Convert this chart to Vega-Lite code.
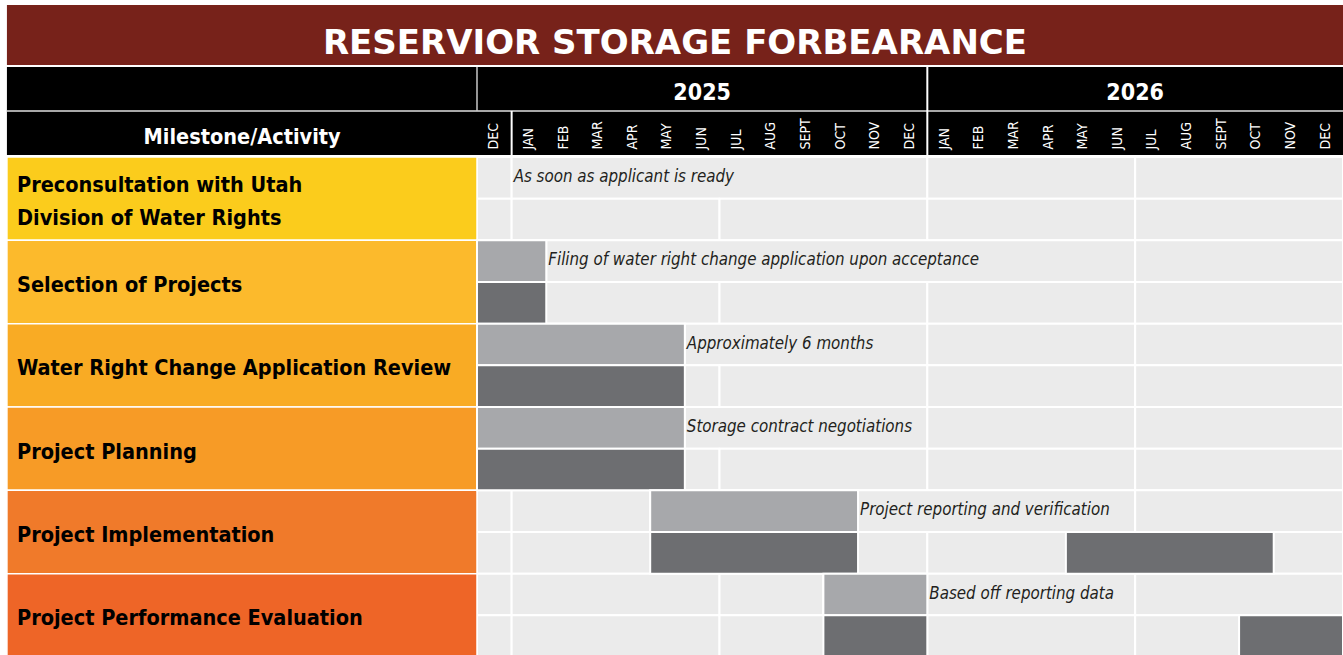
{
  "$schema": "https://vega.github.io/schema/vega-lite/v6.json",
  "padding": 0,
  "spacing": 0,
  "background": "#ffffff",
  "config": {"view": {"stroke": null}, "axis": {"disable": true}, "legend": {"disable": true}, "concat": {"spacing": 0}},
  "datasets": {
    "frame": [{"title": "RESERVIOR STORAGE FORBEARANCE", "header": "Milestone/Activity"}],
    "years": [{"year": "2025", "mid": 6.5}, {"year": "2026", "mid": 19}],
    "months": [
      {"idx": 0, "month": "DEC"}, {"idx": 1, "month": "JAN"}, {"idx": 2, "month": "FEB"}, {"idx": 3, "month": "MAR"},
      {"idx": 4, "month": "APR"}, {"idx": 5, "month": "MAY"}, {"idx": 6, "month": "JUN"}, {"idx": 7, "month": "JUL"},
      {"idx": 8, "month": "AUG"}, {"idx": 9, "month": "SEPT"}, {"idx": 10, "month": "OCT"}, {"idx": 11, "month": "NOV"},
      {"idx": 12, "month": "DEC"}, {"idx": 13, "month": "JAN"}, {"idx": 14, "month": "FEB"}, {"idx": 15, "month": "MAR"},
      {"idx": 16, "month": "APR"}, {"idx": 17, "month": "MAY"}, {"idx": 18, "month": "JUN"}, {"idx": 19, "month": "JUL"},
      {"idx": 20, "month": "AUG"}, {"idx": 21, "month": "SEPT"}, {"idx": 22, "month": "OCT"}, {"idx": 23, "month": "NOV"},
      {"idx": 24, "month": "DEC"}
    ],
    "activities": [
      {"activity": "Preconsultation with Utah Division of Water Rights", "label": ["Preconsultation with Utah", "Division of Water Rights"], "lines": 2},
      {"activity": "Selection of Projects", "label": "Selection of Projects", "lines": 1},
      {"activity": "Water Right Change Application Review", "label": "Water Right Change Application Review", "lines": 1},
      {"activity": "Project Planning", "label": "Project Planning", "lines": 1},
      {"activity": "Project Implementation", "label": "Project Implementation", "lines": 1},
      {"activity": "Project Performance Evaluation", "label": "Project Performance Evaluation", "lines": 1}
    ],
    "cells": [
      {"activity": "Preconsultation with Utah Division of Water Rights", "phase": "plan", "start": 0, "end": 1},
      {"activity": "Preconsultation with Utah Division of Water Rights", "phase": "plan", "start": 1, "end": 13},
      {"activity": "Preconsultation with Utah Division of Water Rights", "phase": "plan", "start": 13, "end": 19},
      {"activity": "Preconsultation with Utah Division of Water Rights", "phase": "plan", "start": 19, "end": 25},
      {"activity": "Preconsultation with Utah Division of Water Rights", "phase": "actual", "start": 0, "end": 1},
      {"activity": "Preconsultation with Utah Division of Water Rights", "phase": "actual", "start": 1, "end": 7},
      {"activity": "Preconsultation with Utah Division of Water Rights", "phase": "actual", "start": 7, "end": 13},
      {"activity": "Preconsultation with Utah Division of Water Rights", "phase": "actual", "start": 13, "end": 19},
      {"activity": "Preconsultation with Utah Division of Water Rights", "phase": "actual", "start": 19, "end": 25},
      {"activity": "Selection of Projects", "phase": "plan", "start": 0, "end": 2},
      {"activity": "Selection of Projects", "phase": "plan", "start": 2, "end": 19},
      {"activity": "Selection of Projects", "phase": "plan", "start": 19, "end": 25},
      {"activity": "Selection of Projects", "phase": "actual", "start": 0, "end": 1},
      {"activity": "Selection of Projects", "phase": "actual", "start": 1, "end": 7},
      {"activity": "Selection of Projects", "phase": "actual", "start": 7, "end": 13},
      {"activity": "Selection of Projects", "phase": "actual", "start": 13, "end": 19},
      {"activity": "Selection of Projects", "phase": "actual", "start": 19, "end": 25},
      {"activity": "Water Right Change Application Review", "phase": "plan", "start": 0, "end": 6},
      {"activity": "Water Right Change Application Review", "phase": "plan", "start": 6, "end": 13},
      {"activity": "Water Right Change Application Review", "phase": "plan", "start": 13, "end": 19},
      {"activity": "Water Right Change Application Review", "phase": "plan", "start": 19, "end": 25},
      {"activity": "Water Right Change Application Review", "phase": "actual", "start": 0, "end": 1},
      {"activity": "Water Right Change Application Review", "phase": "actual", "start": 1, "end": 7},
      {"activity": "Water Right Change Application Review", "phase": "actual", "start": 7, "end": 13},
      {"activity": "Water Right Change Application Review", "phase": "actual", "start": 13, "end": 19},
      {"activity": "Water Right Change Application Review", "phase": "actual", "start": 19, "end": 25},
      {"activity": "Project Planning", "phase": "plan", "start": 0, "end": 6},
      {"activity": "Project Planning", "phase": "plan", "start": 6, "end": 13},
      {"activity": "Project Planning", "phase": "plan", "start": 13, "end": 19},
      {"activity": "Project Planning", "phase": "plan", "start": 19, "end": 25},
      {"activity": "Project Planning", "phase": "actual", "start": 0, "end": 1},
      {"activity": "Project Planning", "phase": "actual", "start": 1, "end": 7},
      {"activity": "Project Planning", "phase": "actual", "start": 7, "end": 13},
      {"activity": "Project Planning", "phase": "actual", "start": 13, "end": 19},
      {"activity": "Project Planning", "phase": "actual", "start": 19, "end": 25},
      {"activity": "Project Implementation", "phase": "plan", "start": 0, "end": 1},
      {"activity": "Project Implementation", "phase": "plan", "start": 1, "end": 5},
      {"activity": "Project Implementation", "phase": "plan", "start": 5, "end": 11},
      {"activity": "Project Implementation", "phase": "plan", "start": 11, "end": 19},
      {"activity": "Project Implementation", "phase": "plan", "start": 19, "end": 25},
      {"activity": "Project Implementation", "phase": "actual", "start": 0, "end": 1},
      {"activity": "Project Implementation", "phase": "actual", "start": 1, "end": 7},
      {"activity": "Project Implementation", "phase": "actual", "start": 7, "end": 13},
      {"activity": "Project Implementation", "phase": "actual", "start": 13, "end": 19},
      {"activity": "Project Implementation", "phase": "actual", "start": 19, "end": 25},
      {"activity": "Project Performance Evaluation", "phase": "plan", "start": 0, "end": 1},
      {"activity": "Project Performance Evaluation", "phase": "plan", "start": 1, "end": 7},
      {"activity": "Project Performance Evaluation", "phase": "plan", "start": 7, "end": 10},
      {"activity": "Project Performance Evaluation", "phase": "plan", "start": 10, "end": 13},
      {"activity": "Project Performance Evaluation", "phase": "plan", "start": 13, "end": 19},
      {"activity": "Project Performance Evaluation", "phase": "plan", "start": 19, "end": 25},
      {"activity": "Project Performance Evaluation", "phase": "actual", "start": 0, "end": 1},
      {"activity": "Project Performance Evaluation", "phase": "actual", "start": 1, "end": 7},
      {"activity": "Project Performance Evaluation", "phase": "actual", "start": 7, "end": 13},
      {"activity": "Project Performance Evaluation", "phase": "actual", "start": 13, "end": 19},
      {"activity": "Project Performance Evaluation", "phase": "actual", "start": 19, "end": 25}
    ],
    "bars": [
      {"activity": "Selection of Projects", "phase": "plan", "start": 0, "end": 2},
      {"activity": "Selection of Projects", "phase": "actual", "start": 0, "end": 2},
      {"activity": "Water Right Change Application Review", "phase": "plan", "start": 0, "end": 6},
      {"activity": "Water Right Change Application Review", "phase": "actual", "start": 0, "end": 6},
      {"activity": "Project Planning", "phase": "plan", "start": 0, "end": 6},
      {"activity": "Project Planning", "phase": "actual", "start": 0, "end": 6},
      {"activity": "Project Implementation", "phase": "plan", "start": 5, "end": 11},
      {"activity": "Project Implementation", "phase": "actual", "start": 5, "end": 11},
      {"activity": "Project Implementation", "phase": "actual", "start": 17, "end": 23},
      {"activity": "Project Performance Evaluation", "phase": "plan", "start": 10, "end": 13},
      {"activity": "Project Performance Evaluation", "phase": "actual", "start": 10, "end": 13},
      {"activity": "Project Performance Evaluation", "phase": "actual", "start": 22, "end": 25}
    ],
    "notes": [
      {"activity": "Preconsultation with Utah Division of Water Rights", "phase": "plan", "at": 1, "note": "As soon as applicant is ready"},
      {"activity": "Selection of Projects", "phase": "plan", "at": 2, "note": "Filing of water right change application upon acceptance"},
      {"activity": "Water Right Change Application Review", "phase": "plan", "at": 6, "note": "Approximately 6 months"},
      {"activity": "Project Planning", "phase": "plan", "at": 6, "note": "Storage contract negotiations"},
      {"activity": "Project Implementation", "phase": "plan", "at": 11, "note": "Project reporting and verification"},
      {"activity": "Project Performance Evaluation", "phase": "plan", "at": 13, "note": "Based off reporting data"}
    ]
  },
  "vconcat": [
    {
      "width": 1343,
      "height": 155,
      "layer": [
        {
          "data": {"name": "frame"},
          "mark": {"type": "rect", "fill": "#77221a"},
          "encoding": {
            "x": {"datum": -13.57, "type": "quantitative", "scale": {"domain": [-13.77, 25], "nice": false, "zero": false}},
            "x2": {"datum": 25},
            "y": {"datum": 0.12, "type": "quantitative", "scale": {"domain": [0, 3.72], "reverse": true, "nice": false, "zero": false}},
            "y2": {"datum": 1.56}
          }
        },
        {
          "data": {"name": "frame"},
          "mark": {"type": "text", "font": "DejaVu Sans", "fontWeight": "bold", "fontSize": 34, "fill": "#ffffff", "align": "center", "baseline": "alphabetic"},
          "encoding": {
            "x": {"datum": 5.715, "type": "quantitative", "scale": {"domain": [-13.77, 25], "nice": false, "zero": false}},
            "y": {"datum": 1.285, "type": "quantitative", "scale": {"domain": [0, 3.72], "reverse": true, "nice": false, "zero": false}},
            "text": {"field": "title"}
          }
        },
        {
          "data": {"name": "frame"},
          "mark": {"type": "rect", "fill": "#000000"},
          "encoding": {
            "x": {"datum": -13.57, "type": "quantitative", "scale": {"domain": [-13.77, 25], "nice": false, "zero": false}},
            "x2": {"datum": 25},
            "y": {"datum": 1.608, "type": "quantitative", "scale": {"domain": [0, 3.72], "reverse": true, "nice": false, "zero": false}},
            "y2": {"datum": 3.72}
          }
        },
        {
          "data": {"name": "frame"},
          "mark": {"type": "rule", "stroke": "#a8a8a8", "strokeWidth": 2},
          "encoding": {
            "x": {"datum": -13.57, "type": "quantitative", "scale": {"domain": [-13.77, 25], "nice": false, "zero": false}},
            "x2": {"datum": 25},
            "y": {"datum": 2.664, "type": "quantitative", "scale": {"domain": [0, 3.72], "reverse": true, "nice": false, "zero": false}}
          }
        },
        {
          "data": {"name": "frame"},
          "mark": {"type": "rule", "stroke": "#c8c8c8", "strokeWidth": 1.5},
          "encoding": {
            "x": {"datum": 0, "type": "quantitative", "scale": {"domain": [-13.77, 25], "nice": false, "zero": false}},
            "y": {"datum": 1.608, "type": "quantitative", "scale": {"domain": [0, 3.72], "reverse": true, "nice": false, "zero": false}},
            "y2": {"datum": 2.664}
          }
        },
        {
          "data": {"name": "frame"},
          "mark": {"type": "rule", "stroke": "#ffffff", "strokeWidth": 2},
          "encoding": {
            "x": {"datum": 13, "type": "quantitative", "scale": {"domain": [-13.77, 25], "nice": false, "zero": false}},
            "y": {"datum": 1.608, "type": "quantitative", "scale": {"domain": [0, 3.72], "reverse": true, "nice": false, "zero": false}},
            "y2": {"datum": 3.72}
          }
        },
        {
          "data": {"name": "frame"},
          "mark": {"type": "rule", "stroke": "#ffffff", "strokeWidth": 2},
          "encoding": {
            "x": {"datum": 1, "type": "quantitative", "scale": {"domain": [-13.77, 25], "nice": false, "zero": false}},
            "y": {"datum": 2.664, "type": "quantitative", "scale": {"domain": [0, 3.72], "reverse": true, "nice": false, "zero": false}},
            "y2": {"datum": 3.72}
          }
        },
        {
          "data": {"name": "frame"},
          "mark": {"type": "text", "font": "'DejaVu Sans Condensed', sans-serif", "fontWeight": "bold", "fontSize": 21.5, "fill": "#ffffff", "align": "center", "baseline": "alphabetic"},
          "encoding": {
            "x": {"datum": -6.78, "type": "quantitative", "scale": {"domain": [-13.77, 25], "nice": false, "zero": false}},
            "y": {"datum": 3.456, "type": "quantitative", "scale": {"domain": [0, 3.72], "reverse": true, "nice": false, "zero": false}},
            "text": {"field": "header"}
          }
        },
        {
          "data": {"name": "years"},
          "mark": {"type": "text", "font": "'DejaVu Sans Condensed', sans-serif", "fontWeight": "bold", "fontSize": 23, "fill": "#ffffff", "align": "center", "baseline": "alphabetic"},
          "encoding": {
            "x": {"field": "mid", "type": "quantitative", "scale": {"domain": [-13.77, 25], "nice": false, "zero": false}},
            "y": {"datum": 2.4, "type": "quantitative", "scale": {"domain": [0, 3.72], "reverse": true, "nice": false, "zero": false}},
            "text": {"field": "year"}
          }
        },
        {
          "data": {"name": "months"},
          "mark": {"type": "text", "font": "'DejaVu Sans Condensed', sans-serif", "fontSize": 14, "fill": "#ffffff", "align": "left", "baseline": "middle", "angle": 270, "dy": 17.3},
          "encoding": {
            "x": {"field": "idx", "type": "quantitative", "scale": {"domain": [-13.77, 25], "nice": false, "zero": false}},
            "y": {"datum": 3.588, "type": "quantitative", "scale": {"domain": [0, 3.72], "reverse": true, "nice": false, "zero": false}},
            "text": {"field": "month"}
          }
        }
      ]
    },
    {
      "width": 1343,
      "height": 500,
      "resolve": {"scale": {"fill": "independent"}},
      "layer": [
        {
          "data": {"name": "cells"},
          "mark": {"type": "rect", "fill": "#ebebeb", "stroke": "#ffffff", "strokeWidth": 2},
          "encoding": {
            "x": {"field": "start", "type": "quantitative", "scale": {"domain": [-13.77, 25], "nice": false, "zero": false}},
            "x2": {"field": "end"},
            "y": {"field": "activity", "type": "nominal", "scale": {"type": "band", "domain": ["Preconsultation with Utah Division of Water Rights", "Selection of Projects", "Water Right Change Application Review", "Project Planning", "Project Implementation", "Project Performance Evaluation"], "paddingInner": 0, "paddingOuter": 0}},
            "yOffset": {"field": "phase", "type": "nominal", "scale": {"type": "band", "domain": ["plan", "actual"], "paddingInner": 0, "paddingOuter": 0}}
          }
        },
        {
          "data": {"name": "activities"},
          "mark": {"type": "rect", "stroke": "#ffffff", "strokeWidth": 1.5},
          "encoding": {
            "x": {"datum": -13.57, "type": "quantitative", "scale": {"domain": [-13.77, 25], "nice": false, "zero": false}},
            "x2": {"datum": 0},
            "y": {"field": "activity", "type": "nominal", "scale": {"type": "band", "domain": ["Preconsultation with Utah Division of Water Rights", "Selection of Projects", "Water Right Change Application Review", "Project Planning", "Project Implementation", "Project Performance Evaluation"], "paddingInner": 0, "paddingOuter": 0}},
            "fill": {"field": "activity", "type": "nominal", "scale": {"domain": ["Preconsultation with Utah Division of Water Rights", "Selection of Projects", "Water Right Change Application Review", "Project Planning", "Project Implementation", "Project Performance Evaluation"], "range": ["#fbcc1c", "#fcba2c", "#f9ab24", "#f79b26", "#f07a2a", "#ee6527"]}, "legend": null}
          }
        },
        {
          "data": {"name": "bars"},
          "mark": {"type": "rect", "stroke": "#ffffff", "strokeWidth": 2},
          "encoding": {
            "x": {"field": "start", "type": "quantitative", "scale": {"domain": [-13.77, 25], "nice": false, "zero": false}},
            "x2": {"field": "end"},
            "y": {"field": "activity", "type": "nominal", "scale": {"type": "band", "domain": ["Preconsultation with Utah Division of Water Rights", "Selection of Projects", "Water Right Change Application Review", "Project Planning", "Project Implementation", "Project Performance Evaluation"], "paddingInner": 0, "paddingOuter": 0}},
            "yOffset": {"field": "phase", "type": "nominal", "scale": {"type": "band", "domain": ["plan", "actual"], "paddingInner": 0, "paddingOuter": 0}},
            "fill": {"field": "phase", "type": "nominal", "scale": {"domain": ["plan", "actual"], "range": ["#a7a8ab", "#6d6e71"]}, "legend": null}
          }
        },
        {
          "data": {"name": "activities"},
          "transform": [{"filter": "datum.lines == 1"}],
          "mark": {"type": "text", "font": "'DejaVu Sans Condensed', sans-serif", "fontWeight": "bold", "fontSize": 21.5, "fill": "#000000", "align": "left", "baseline": "middle", "dy": 4},
          "encoding": {
            "x": {"datum": -13.28, "type": "quantitative", "scale": {"domain": [-13.77, 25], "nice": false, "zero": false}},
            "y": {"field": "activity", "type": "nominal", "scale": {"type": "band", "domain": ["Preconsultation with Utah Division of Water Rights", "Selection of Projects", "Water Right Change Application Review", "Project Planning", "Project Implementation", "Project Performance Evaluation"], "paddingInner": 0, "paddingOuter": 0}},
            "text": {"field": "label"}
          }
        },
        {
          "data": {"name": "activities"},
          "transform": [{"filter": "datum.lines == 2"}],
          "mark": {"type": "text", "font": "'DejaVu Sans Condensed', sans-serif", "fontWeight": "bold", "fontSize": 21.5, "fill": "#000000", "align": "left", "baseline": "middle", "lineHeight": 33, "dy": -13},
          "encoding": {
            "x": {"datum": -13.28, "type": "quantitative", "scale": {"domain": [-13.77, 25], "nice": false, "zero": false}},
            "y": {"field": "activity", "type": "nominal", "scale": {"type": "band", "domain": ["Preconsultation with Utah Division of Water Rights", "Selection of Projects", "Water Right Change Application Review", "Project Planning", "Project Implementation", "Project Performance Evaluation"], "paddingInner": 0, "paddingOuter": 0}},
            "text": {"field": "label"}
          }
        },
        {
          "data": {"name": "notes"},
          "mark": {"type": "text", "font": "'DejaVu Sans Condensed', sans-serif", "fontStyle": "italic", "fontSize": 16.8, "fill": "#231f20", "align": "left", "baseline": "middle", "dx": 2, "dy": -1},
          "encoding": {
            "x": {"field": "at", "type": "quantitative", "scale": {"domain": [-13.77, 25], "nice": false, "zero": false}},
            "y": {"field": "activity", "type": "nominal", "scale": {"type": "band", "domain": ["Preconsultation with Utah Division of Water Rights", "Selection of Projects", "Water Right Change Application Review", "Project Planning", "Project Implementation", "Project Performance Evaluation"], "paddingInner": 0, "paddingOuter": 0}},
            "yOffset": {"field": "phase", "type": "nominal", "scale": {"type": "band", "domain": ["plan", "actual"], "paddingInner": 0, "paddingOuter": 0}},
            "text": {"field": "note"}
          }
        }
      ]
    }
  ]
}
